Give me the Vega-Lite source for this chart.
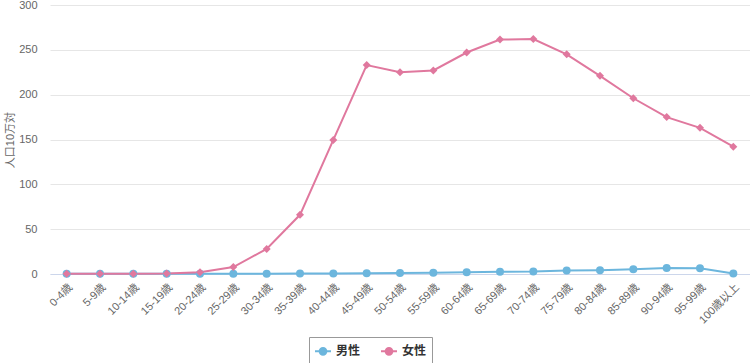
{
  "$schema": "https://vega.github.io/schema/vega-lite/v6.json",
  "width": 700,
  "height": 269,
  "autosize": {"type": "none"},
  "padding": {"left": 50, "top": 5, "right": 0, "bottom": 89},
  "background": "white",
  "config": {
    "view": {"stroke": null},
    "font": "Liberation Sans, Noto Sans CJK JP, sans-serif"
  },
  "data": {
    "values": [
      {"age": "0-4歳", "sex": "男性", "value": 0.3},
      {"age": "5-9歳", "sex": "男性", "value": 0.2},
      {"age": "10-14歳", "sex": "男性", "value": 0.3},
      {"age": "15-19歳", "sex": "男性", "value": 0.3},
      {"age": "20-24歳", "sex": "男性", "value": 0.4},
      {"age": "25-29歳", "sex": "男性", "value": 0.4},
      {"age": "30-34歳", "sex": "男性", "value": 0.4},
      {"age": "35-39歳", "sex": "男性", "value": 0.5},
      {"age": "40-44歳", "sex": "男性", "value": 0.6},
      {"age": "45-49歳", "sex": "男性", "value": 0.7},
      {"age": "50-54歳", "sex": "男性", "value": 1.0},
      {"age": "55-59歳", "sex": "男性", "value": 1.3},
      {"age": "60-64歳", "sex": "男性", "value": 2.0},
      {"age": "65-69歳", "sex": "男性", "value": 2.4},
      {"age": "70-74歳", "sex": "男性", "value": 2.7},
      {"age": "75-79歳", "sex": "男性", "value": 4.0},
      {"age": "80-84歳", "sex": "男性", "value": 4.3},
      {"age": "85-89歳", "sex": "男性", "value": 5.2},
      {"age": "90-94歳", "sex": "男性", "value": 6.6},
      {"age": "95-99歳", "sex": "男性", "value": 6.4},
      {"age": "100歳以上", "sex": "男性", "value": 0.5},
      {"age": "0-4歳", "sex": "女性", "value": 0.3},
      {"age": "5-9歳", "sex": "女性", "value": 0.2},
      {"age": "10-14歳", "sex": "女性", "value": 0.3},
      {"age": "15-19歳", "sex": "女性", "value": 0.5},
      {"age": "20-24歳", "sex": "女性", "value": 2.0},
      {"age": "25-29歳", "sex": "女性", "value": 7.8},
      {"age": "30-34歳", "sex": "女性", "value": 28},
      {"age": "35-39歳", "sex": "女性", "value": 66},
      {"age": "40-44歳", "sex": "女性", "value": 149.5},
      {"age": "45-49歳", "sex": "女性", "value": 233},
      {"age": "50-54歳", "sex": "女性", "value": 225},
      {"age": "55-59歳", "sex": "女性", "value": 227},
      {"age": "60-64歳", "sex": "女性", "value": 247},
      {"age": "65-69歳", "sex": "女性", "value": 261.5},
      {"age": "70-74歳", "sex": "女性", "value": 262},
      {"age": "75-79歳", "sex": "女性", "value": 245},
      {"age": "80-84歳", "sex": "女性", "value": 221},
      {"age": "85-89歳", "sex": "女性", "value": 196},
      {"age": "90-94歳", "sex": "女性", "value": 175},
      {"age": "95-99歳", "sex": "女性", "value": 163},
      {"age": "100歳以上", "sex": "女性", "value": 142}
    ]
  },
  "encoding": {
    "x": {
      "field": "age",
      "type": "ordinal",
      "sort": null,
      "scale": {"type": "band", "paddingInner": 0, "paddingOuter": 0},
      "axis": {
        "title": null,
        "labelAngle": -45,
        "labelFontSize": 11,
        "labelColor": "#666666",
        "labelPadding": 7,
        "ticks": false,
        "domainColor": "#ccd6eb",
        "domainWidth": 1,
        "grid": false
      }
    },
    "y": {
      "field": "value",
      "type": "quantitative",
      "scale": {"domain": [0, 300], "nice": false},
      "axis": {
        "title": "人口10万対",
        "titleFontSize": 11,
        "titleFontWeight": "normal",
        "titleColor": "#666666",
        "titlePadding": 3,
        "values": [0, 50, 100, 150, 200, 250, 300],
        "labelFontSize": 11,
        "labelColor": "#666666",
        "labelPadding": 13,
        "ticks": false,
        "domain": false,
        "gridColor": "#e6e6e6",
        "gridWidth": 1
      }
    },
    "color": {
      "field": "sex",
      "type": "nominal",
      "sort": ["男性", "女性"],
      "scale": {"domain": ["男性", "女性"], "range": ["#6cb6dd", "#e0789e"]},
      "legend": {
        "title": null,
        "orient": "none",
        "legendX": 259,
        "legendY": 332,
        "direction": "horizontal",
        "padding": 5,
        "strokeColor": "#999999",
        "fillColor": "white",
        "labelFontSize": 12,
        "labelFontWeight": "bold",
        "labelColor": "#333333",
        "columnPadding": 16,
        "symbolType": "M-1,0L1,0M-0.42,0A0.42,0.42,0,1,0,0.42,0A0.42,0.42,0,1,0,-0.42,0Z",
        "symbolSize": 256,
        "symbolStrokeWidth": 2
      }
    }
  },
  "layer": [
    {
      "mark": {"type": "line", "strokeWidth": 2}
    },
    {
      "transform": [{"filter": "datum.sex === '男性'"}],
      "mark": {"type": "point", "filled": true, "size": 64, "opacity": 1, "shape": "circle"}
    },
    {
      "transform": [{"filter": "datum.sex === '女性'"}],
      "mark": {"type": "point", "filled": true, "size": 64, "opacity": 1, "shape": "diamond"}
    }
  ]
}
